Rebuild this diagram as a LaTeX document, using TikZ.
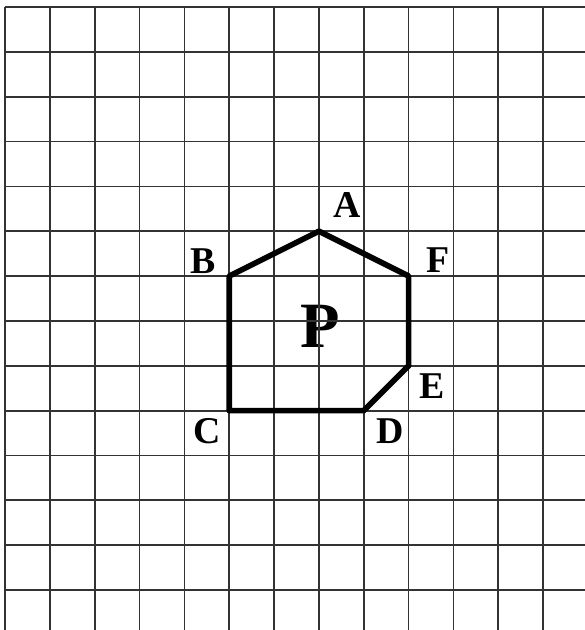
\documentclass[tikz,border=0pt]{standalone}
\usepackage{fontspec}
\setmainfont{Liberation Serif}
\tikzset{
  gridline/.style = {draw = black!80, line width = 1.1pt},
  edge/.style = {draw = black, line width = 3.6pt, line join = round},
  vlabel/.style = {font = \fontsize{24}{24}\selectfont\bfseries, inner sep = 0pt},
  bigname/.style = {font = \fontsize{41}{41}\selectfont\bfseries, inner sep = 0pt}
}
\begin{document}
\begin{tikzpicture}[scale = 1]
            \useasboundingbox (-0.111,0.109) rectangle (12.932,14.156);

            % corners of the shape
            \coordinate (A) at (7,9);
            \coordinate (B) at (5,8);
            \coordinate (C) at (5,5);
            \coordinate (D) at (8,5);
            \coordinate (E) at (9,6);
            \coordinate (F) at (9,8);

            \node[bigname] (p) at (7.02,6.89) {P};

            % squared paper
            \foreach \i in {0,...,12}
                \draw[gridline] (\i,0.109) -- (\i,14);
            \foreach \j in {1,...,14}
                \draw[gridline] (0,\j) -- (12.932,\j);

            \draw[edge] (A) -- (F) -- (E) -- (D) -- (C) -- (B) -- cycle;

            \node[vlabel] (la) at (7.63,9.59) {A};
            \node[vlabel] (lb) at (4.41,8.34) {B};
            \node[vlabel] (lc) at (4.50,4.55) {C};
            \node[vlabel] (ld) at (8.58,4.55) {D};
            \node[vlabel] (le) at (9.52,5.55) {E};
            \node[vlabel] (lf) at (9.65,8.36) {F};
        \end{tikzpicture}
\end{document}
